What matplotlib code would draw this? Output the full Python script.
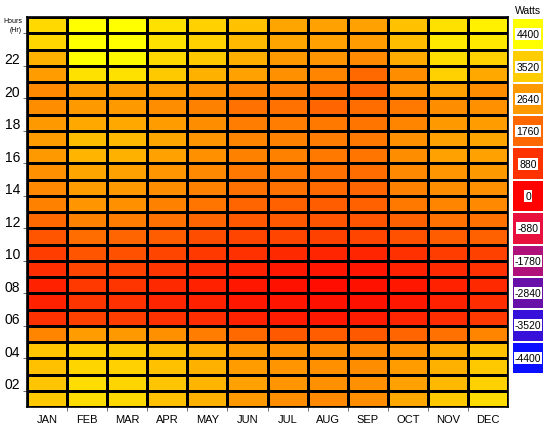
import numpy as np
import matplotlib
matplotlib.use("Agg")
import matplotlib.pyplot as plt
from matplotlib.colors import LinearSegmentedColormap, Normalize
from matplotlib.patches import Rectangle

plt.rcParams['font.family'] = ['Liberation Sans', 'DejaVu Sans']

months = ["JAN", "FEB", "MAR", "APR", "MAY", "JUN", "JUL", "AUG", "SEP", "OCT", "NOV", "DEC"]
hours = list(range(1, 25))
hour_ticks = [2, 4, 6, 8, 10, 12, 14, 16, 18, 20, 22]
hour_labels = ["02", "04", "06", "08", "10", "12", "14", "16", "18", "20", "22"]

# Watts per hour (rows: hour 1 .. 24), columns JAN..DEC
h01 = [3450, 3800, 3730, 3310, 3040, 2620, 2420, 2350, 2420, 2900, 3450, 3800]
h02 = [3380, 3800, 3660, 3380, 3100, 2760, 2550, 2480, 2480, 2760, 3180, 3590]
h03 = [3310, 3660, 3590, 3310, 3040, 2690, 2550, 2480, 2420, 2690, 3040, 3450]
h04 = [3380, 3520, 3450, 3240, 2970, 2620, 2480, 2420, 2350, 2480, 2900, 3310]
h05 = [2280, 2690, 2620, 2480, 2140, 1790, 1520, 1590, 1520, 1730, 1930, 2280]
h06 = [830, 1100, 1040, 830, 760, 550, 480, 410, 480, 620, 760, 970]
h07 = [550, 900, 830, 620, 550, 410, 350, 280, 280, 410, 550, 760]
h08 = [550, 970, 900, 690, 550, 410, 280, 210, 280, 410, 550, 690]
h09 = [760, 1170, 1100, 900, 690, 550, 410, 350, 350, 550, 690, 830]
h10 = [1040, 1450, 1380, 1170, 970, 830, 690, 620, 620, 830, 1040, 1100]
h11 = [1450, 1860, 1730, 1590, 1310, 1170, 1170, 1100, 1170, 1380, 1590, 1660]
h12 = [1790, 2210, 2140, 1930, 1730, 1520, 1520, 1450, 1450, 1660, 1930, 1930]
h13 = [2210, 2550, 2480, 2210, 2000, 1730, 1660, 1590, 1660, 2070, 2280, 2350]
h14 = [2350, 2690, 2620, 2420, 2210, 1930, 1930, 1790, 1730, 2210, 2420, 2480]
h15 = [2480, 2830, 2760, 2550, 2350, 2070, 2070, 1930, 1860, 2350, 2550, 2620]
h16 = [2620, 3100, 3040, 2760, 2480, 2210, 2210, 2070, 2000, 2420, 2760, 2760]
h17 = [2690, 3240, 3180, 2830, 2550, 2280, 2210, 2140, 2070, 2480, 2760, 2830]
h18 = [2620, 2900, 2900, 2690, 2420, 2140, 2140, 2070, 2000, 2280, 2620, 2690]
h19 = [2420, 2620, 2620, 2420, 2210, 1930, 1930, 1730, 1860, 2070, 2420, 2480]
h20 = [2350, 2690, 2690, 2690, 2480, 2210, 2140, 1860, 1660, 2480, 2760, 2420]
h21 = [2690, 3860, 3860, 3450, 3040, 2760, 2480, 2280, 1790, 2420, 3590, 2900]
h22 = [3040, 4400, 4280, 3730, 3450, 3000, 2620, 2550, 2350, 2930, 3800, 3590]
h23 = [3680, 4400, 4400, 3860, 3590, 3180, 2850, 2760, 2690, 3240, 4000, 4000]
h24 = [3730, 4400, 4400, 3860, 3590, 3310, 2850, 2760, 2760, 3310, 3860, 4140]

cb_labels = ["4400", "3520", "2640", "1760", "880", "0", "-880", "-1780", "-2840", "-3520", "-4400"]
cb_values = [4400, 3520, 2640, 1760, 880, 0, -880, -1780, -2840, -3520, -4400]

data = np.array([h01, h02, h03, h04, h05, h06, h07, h08, h09, h10, h11, h12,
                 h13, h14, h15, h16, h17, h18, h19, h20, h21, h22, h23, h24], dtype=float)

anchors = [(-4400, "#0a10ff"), (-3520, "#3810d8"), (-2840, "#6a10a8"), (-1780, "#b0107a"),
           (-880, "#e8103c"), (0, "#ff0000"), (4400, "#ffff00")]
vmin, vmax = -4400, 4400
cmap = LinearSegmentedColormap.from_list(
    "watts", [((v - vmin) / (vmax - vmin), c) for v, c in anchors])
norm = Normalize(vmin, vmax)

fig = plt.figure(figsize=(5.5, 4.27), dpi=100)
ax = fig.add_axes([27 / 550, 1 - 408 / 427, 481 / 550, 390 / 427])

x_edges = np.arange(len(months) + 1) - 0.5
y_edges = np.arange(len(hours) + 1) + 0.5
ax.pcolormesh(x_edges, y_edges, data, cmap=cmap, norm=norm,
              edgecolors="black", linewidth=0.95)
ax.set_xlim(x_edges[0], x_edges[-1])
ax.set_ylim(y_edges[0], y_edges[-1])

ax.set_xticks(range(len(months)))
ax.set_xticklabels(months, fontsize=8)
ax.set_xticks(x_edges[1:-1], minor=True)
ax.tick_params(axis="x", which="major", length=0, pad=5)
ax.tick_params(axis="x", which="minor", length=3, color="#555555")

ax.set_yticks(hour_ticks)
ax.set_yticklabels(hour_labels, fontsize=10)
ax.set_yticks([h - 0.5 for h in hour_ticks] + [23.5], minor=True)
ax.tick_params(axis="y", which="major", length=0, pad=5)
ax.tick_params(axis="y", which="minor", length=3, color="#555555")
for s in ax.spines.values():
    s.set_linewidth(1.2)

fig.text(22 / 550, 1 - 26 / 427, "Hours\n(Hr)", fontsize=5, ha="right", va="center",
         linespacing=1.4)

# Discrete colour legend
cax = fig.add_axes([513 / 550, 1 - 375 / 427, 30 / 550, 356 / 427])
cax.set_xlim(0, 1)
cax.set_ylim(0, len(cb_values))
cax.axis("off")
n = len(cb_values)
for i, (lab, v) in enumerate(zip(cb_labels, cb_values)):
    y0 = n - 1 - i
    cax.add_patch(Rectangle((0, y0 + 0.03), 1, 0.94, facecolor=cmap(norm(v)), edgecolor="none"))
    cax.text(0.5, y0 + 0.5, lab, ha="center", va="center", fontsize=7.5, color="black",
             bbox=dict(boxstyle="square,pad=0.1", facecolor="white", edgecolor="none"))
fig.text(528 / 550, 1 - 11 / 427, "Watts", ha="center", va="center", fontsize=7.5)

fig.savefig("out.png", dpi=100)
